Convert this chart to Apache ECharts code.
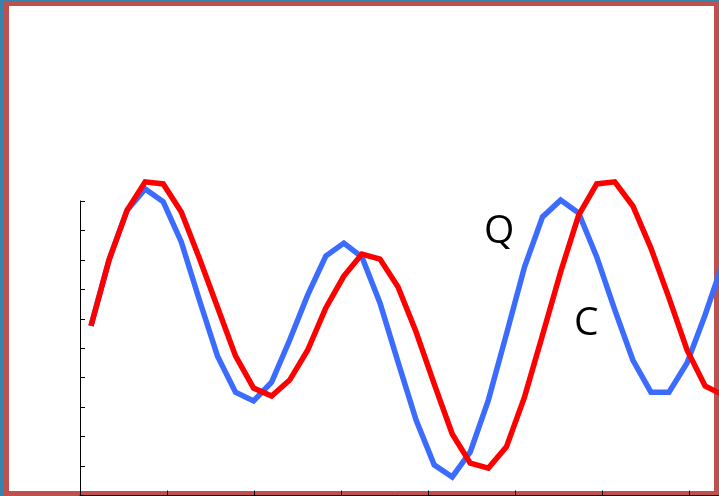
<!DOCTYPE html>
<html lang="en">
<head>
    <meta charset="UTF-8">
    <title>Q C</title>
    <script src="https://cdn.jsdelivr.net/npm/echarts@6/dist/echarts.min.js"></script>
    <style>
        html, body { margin: 0; padding: 0; background: #fff; }
    </style>
</head>
<body>
<div id="main" style="width: 719px;height: 496px;"></div>
<script>
    // sample index (points are evenly spaced)
    let samples = [];
    for (let i = 0; i < 36; i++) samples.push(i);

    // Q curve (blue)
    let qValues = [5.76, 8.00, 9.69, 10.41, 9.97, 8.61, 6.64, 4.74, 3.51, 3.21,
        3.85, 5.28, 6.81, 8.13, 8.57, 8.10, 6.54, 4.53, 2.56, 1.04,
        0.63, 1.48, 3.24, 5.48, 7.76, 9.46, 10.03, 9.59, 8.10, 6.30,
        4.60, 3.51, 3.51, 4.50, 6.13, 7.93];

    // C curve (red)
    let cValues = [5.76, 8.00, 9.69, 10.65, 10.58, 9.63, 8.06, 6.40, 4.74, 3.65,
        3.38, 3.92, 4.94, 6.37, 7.45, 8.20, 8.03, 7.08, 5.55, 3.79,
        2.09, 1.10, 0.93, 1.65, 3.34, 5.45, 7.59, 9.52, 10.58, 10.65,
        9.83, 8.40, 6.71, 4.94, 3.72, 3.41];

    // curve labels
    let labels = ['Q', 'C'];

    let toPairs = function(vals) {
        return vals.map(function(v, i) { return [samples[i], v]; });
    };

    let myChart = echarts.init(document.getElementById('main'));
    let option = {
        animation: false,
        // grid 0 carries the curves, grid 1 the visible axes
        grid: [
            {left: 91, right: 0, top: 201, bottom: 0.5},
            {left: 80, right: 0, top: 201, bottom: 0.5}
        ],
        xAxis: [
            {
                // the picture is cut off on the right, so the last sample falls outside
                type: 'value', gridIndex: 0, min: 0, max: 34.77,
                show: false
            },
            {
                type: 'value', gridIndex: 1, min: 0, max: 7.34, interval: 1,
                axisLine: {show: true, lineStyle: {color: '#000', width: 1}},
                axisTick: {show: true, inside: true, length: 5, lineStyle: {color: '#000'}},
                axisLabel: {show: false},
                splitLine: {show: false}
            }
        ],
        yAxis: [
            {type: 'value', gridIndex: 0, min: 0, max: 10, show: false},
            {
                type: 'value', gridIndex: 1, min: 0, max: 10, interval: 1,
                axisLine: {show: true, lineStyle: {color: '#000', width: 1}},
                axisTick: {show: true, inside: true, length: 5, lineStyle: {color: '#000'}},
                axisLabel: {show: false},
                splitLine: {show: false}
            }
        ],
        graphic: [
            // frame behind the plot
            {type: 'rect', z: -10, shape: {x: 0, y: 0, width: 719, height: 496}, style: {fill: '#3385ad'}},
            {type: 'rect', z: -9, shape: {x: 3, y: 1, width: 716, height: 495}, style: {fill: '#c0504d'}},
            {type: 'rect', z: -8, shape: {x: 9, y: 6, width: 705, height: 485}, style: {fill: '#ffffff'}},
            {
                type: 'text', z: 10, left: 484, top: 212,
                style: {text: labels[0], font: '39px "Open Sans"', fill: '#000'}
            },
            {
                type: 'text', z: 10, left: 574, top: 304,
                style: {text: labels[1], font: '39px "Open Sans"', fill: '#000'}
            }
        ],
        series: [
            {
                type: 'line', xAxisIndex: 0, yAxisIndex: 0, data: toPairs(qValues),
                symbol: 'none', clip: false,
                lineStyle: {color: '#3b6cff', width: 5.5, join: 'miter'}
            },
            {
                type: 'line', xAxisIndex: 0, yAxisIndex: 0, data: toPairs(cValues),
                symbol: 'none', clip: false,
                lineStyle: {color: '#ff0000', width: 5.5, join: 'miter'}
            }
        ]
    };

    myChart.setOption(option);
</script>
</body>
</html>
